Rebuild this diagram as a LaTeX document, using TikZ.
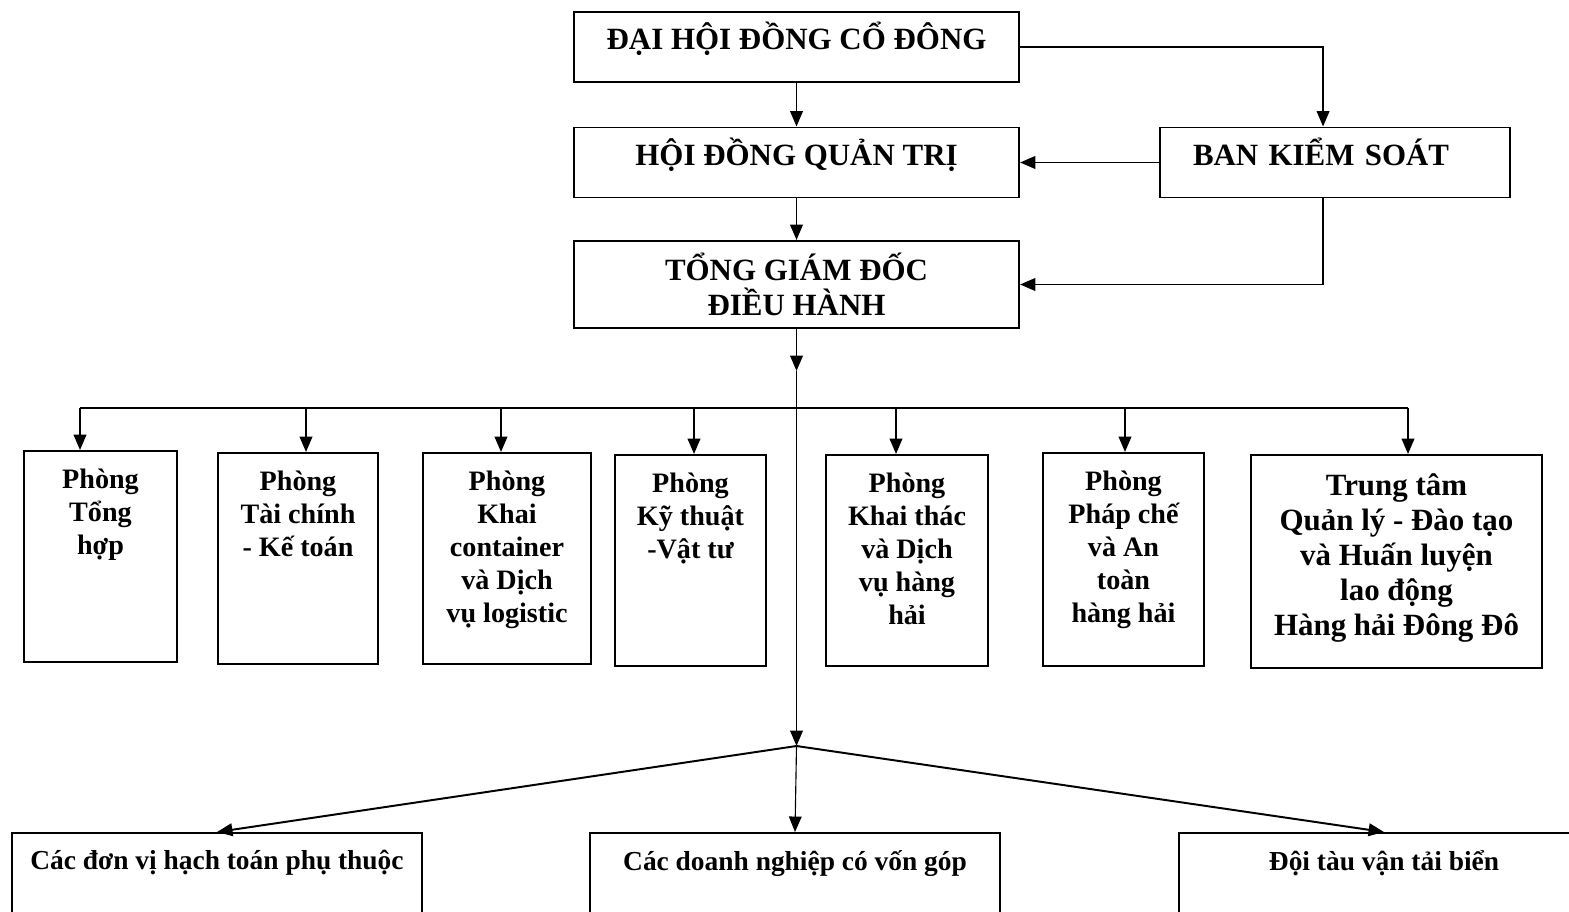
\documentclass[tikz,border=0pt]{standalone}
\usepackage{fontspec}
\setmainfont{Liberation Serif}
\usepackage{tikz}
\usetikzlibrary{shapes,arrows.meta,positioning}
\newlength{\pxu}
\setlength{\pxu}{0.025cm}

\begin{document}
\begin{tikzpicture}[x=0.025cm,y=-0.025cm,line width=1.4pt,
  arr/.style={-{Triangle[length=11pt,width=9pt]}},
  topbox/.style={draw,line width=1.4pt,inner sep=0pt,minimum width=445\pxu,minimum height=70\pxu,font=\bfseries\fontsize{22}{25}\selectfont,align=center},
  dept/.style={draw,line width=1.4pt,inner sep=0pt},
  depttext/.style={font=\bfseries\fontsize{20}{23.5}\selectfont,align=center,inner sep=0pt},
  unitbox/.style={draw,line width=1.4pt,inner sep=0pt,minimum width=410\pxu,minimum height=120\pxu},
  unittext/.style={font=\bfseries\fontsize{19.5}{22}\selectfont,inner sep=0pt}]
\useasboundingbox (0,0) rectangle (1569,912);
\clip (0,0) rectangle (1569,912);

% Top of the chart
\node[topbox,text height=6pt,text depth=2pt] (dhdcd) at (796.5,47) {ĐẠI HỘI ĐỒNG CỔ ĐÔNG};
\node[topbox,text height=6pt,text depth=2pt] (hdqt) at (796.5,162.5) {HỘI ĐỒNG QUẢN TRỊ};
\node[topbox,minimum height=87\pxu] (tgd) at (796.5,284.5) {TỔNG GIÁM ĐỐC\\ĐIỀU HÀNH};
\node[topbox,minimum width=350\pxu,text width=284\pxu,inner xsep=33\pxu,align=left,text height=6pt,text depth=2pt] (bks) at (1335,162.5) {BAN KIỂM SOÁT};

\draw[arr] (dhdcd) -- (hdqt);
\draw[arr] (hdqt) -- (tgd);
\draw[arr] (dhdcd.east) -| ([xshift=-8.5pt]bks.north);
\draw[arr] (bks.west) -- (hdqt.east);
\draw[arr] ([xshift=-8.5pt]bks.south) |- (tgd.east);

% Departments
\coordinate (tgdarrow) at (796.5,371);
\coordinate (split) at (796.5,746);
\coordinate (d1) at (80,408);
\coordinate (d2) at (306,408);
\coordinate (d3) at (501,408);
\coordinate (d4) at (694,408);
\coordinate (d5) at (896,408);
\coordinate (d6) at (1125,408);
\coordinate (d7) at (1408,408);

\node[dept,minimum width=153\pxu,minimum height=211\pxu] (tonghop) at (100.5,556.5) {};
\node[depttext,below=12.5pt of tonghop.north] (tonghop-t) {Phòng\\Tổng\\hợp};
\node[dept,minimum width=160\pxu,minimum height=211\pxu] (taichinh) at (298,558.5) {};
\node[depttext,below=12.5pt of taichinh.north] (taichinh-t) {Phòng\\Tài chính\\- Kế toán};
\node[dept,minimum width=168\pxu,minimum height=211\pxu] (container) at (507,558.5) {};
\node[depttext,below=12.5pt of container.north] (container-t) {Phòng\\Khai\\container\\và Dịch\\vụ logistic};
\node[dept,minimum width=151\pxu,minimum height=211\pxu] (kythuat) at (690.5,560.5) {};
\node[depttext,below=12.5pt of kythuat.north] (kythuat-t) {Phòng\\Kỹ thuật\\-Vật tư};
\node[dept,minimum width=162\pxu,minimum height=211\pxu] (khaithac) at (907,560.5) {};
\node[depttext,below=12.5pt of khaithac.north] (khaithac-t) {Phòng\\Khai thác\\và Dịch\\vụ hàng\\hải};
\node[dept,minimum width=161\pxu,minimum height=213\pxu] (phapche) at (1123.5,559.5) {};
\node[depttext,below=12.5pt of phapche.north] (phapche-t) {Phòng\\Pháp chế\\và An\\toàn\\hàng hải};
\node[dept,minimum width=291\pxu,minimum height=213\pxu] (trungtam) at (1396.5,561.5) {};
\node[depttext,font=\bfseries\fontsize{22}{25}\selectfont,below=13pt of trungtam.north] (trungtam-t) {Trung tâm\\Quản lý - Đào tạo\\và Huấn luyện\\lao động\\Hàng hải Đông Đô};

\draw[arr] (tgd) -- (tgdarrow);
\draw[arr] (tgdarrow) -- (split);
\draw (d1) -- (d7);
\draw[arr] (d1) -- (d1 |- tonghop.north);
\draw[arr] (d2) -- (d2 |- taichinh.north);
\draw[arr] (d3) -- (d3 |- container.north);
\draw[arr] (d4) -- (d4 |- kythuat.north);
\draw[arr] (d5) -- (d5 |- khaithac.north);
\draw[arr] (d6) -- (d6 |- phapche.north);
\draw[arr] (d7) -- (d7 |- trungtam.north);

% Units below
\node[unitbox] (hachtoan) at (217,893) {};
\node[unittext,below=12.5pt of hachtoan.north] (hachtoan-t) {Các đơn vị hạch toán phụ thuộc};
\node[unitbox] (vongop) at (795,893) {};
\node[unittext,below=12.5pt of vongop.north] (vongop-t) {Các doanh nghiệp có vốn góp};
\node[unitbox] (doitau) at (1384,893) {};
\node[unittext,below=12.5pt of doitau.north] (doitau-t) {Đội tàu vận tải biển};

\draw[arr] (split) -- (hachtoan.north);
\draw[arr,line width=0.8pt] (split) -- (vongop.north);
\draw[arr] (split) -- (doitau.north);
\end{tikzpicture}
\end{document}
